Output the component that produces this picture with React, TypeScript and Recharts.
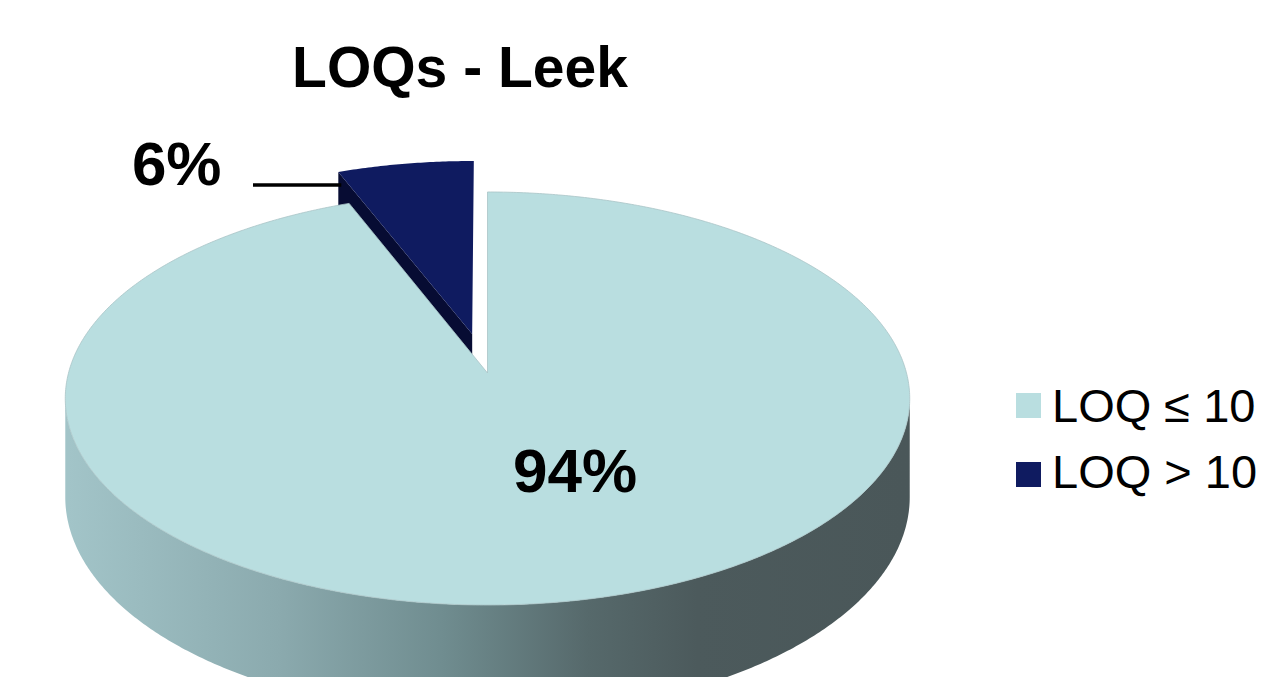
import React from 'react';
import { PieChart, Pie, Legend } from 'recharts';

const categories: string[] = ['LOQ ≤ 10', 'LOQ > 10'];
const values: number[] = [94, 6];
const sliceColors: string[] = ['#B9DEE0', '#0F1B60'];
const cutFaceColors: string[] = ['#8FB1B4', '#070C33'];
const wallStops: number[] = [0, 0.25, 0.45, 0.62, 0.75, 1];
const wallShades: string[] = ['#A2C4C8', '#8BAAAE', '#6F8C8F', '#56696B', '#4C5A5C', '#4A5759'];
const explodeBy: number[] = [0, 0.2];
const chartTitle = 'LOQs - Leek';

const FONT = '"Liberation Sans", Arial, Helvetica, sans-serif';
const RAD = Math.PI / 180;
const TILT = 0.4854;
const PERSP = 0.1235;
const DEPTH = 0.2315;
const SIL = Math.asin(PERSP) / RAD;

// drawing order: the back (exploded) slice first, pie runs counter-clockwise from 12 o'clock
const pieData = [1, 0].map((i) => ({ name: categories[i], value: values[i], idx: i }));

type Pt = [number, number];

function renderSlice(props: any) {
  const { cx, cy, outerRadius, startAngle, endAngle, percent } = props;
  const R = outerRadius;
  const idx: number = props.payload?.idx ?? props.idx;
  const mid = (startAngle + endAngle) / 2;
  const e = explodeBy[idx];
  const ou = e * Math.cos(mid * RAD);
  const ov = -e * Math.sin(mid * RAD);
  const P = (ang: number, r: number, z: number): Pt => {
    const u = ou + r * Math.cos(ang * RAD);
    const v = ov - r * Math.sin(ang * RAD);
    const w = 1 - PERSP * v;
    return [cx + (R * u) / w, cy + (R * TILT * v + R * DEPTH * z) / w];
  };
  const arc = (a: number, b: number, z: number): Pt[] => {
    const n = Math.max(2, Math.ceil(Math.abs(b - a) / 0.5));
    const out: Pt[] = [];
    for (let j = 0; j <= n; j++) out.push(P(a + ((b - a) * j) / n, 1, z));
    return out;
  };
  const toD = (pts: Pt[]) =>
    'M' + pts.map((p) => `${p[0].toFixed(2)},${p[1].toFixed(2)}`).join('L') + 'Z';
  const face = (ang: number) => toD([P(ang, 0, 0), P(ang, 1, 0), P(ang, 1, 1), P(ang, 0, 1)]);

  const faces: string[] = [];
  if (Math.cos(startAngle * RAD) > 1e-6) faces.push(face(startAngle));
  if (Math.cos(endAngle * RAD) < -1e-6) faces.push(face(endAngle));

  const walls: string[] = [];
  for (const s of [-360, 0, 360]) {
    const lo = Math.max(startAngle, 180 + SIL + s);
    const hi = Math.min(endAngle, 360 - SIL + s);
    if (hi > lo) walls.push(toD([...arc(lo, hi, 0), ...arc(hi, lo, 1)]));
  }
  const top = toD([P(0, 0, 0), ...arc(startAngle, endAngle, 0)]);
  const gradId = `wall-grad-${idx}`;
  const pctText = `${Math.round(percent * 100)}%`;

  let label: React.ReactNode = null;
  if (idx === 0) {
    label = (
      <text x={cx + 87.5} y={cy + 119} textAnchor="middle" fontFamily={FONT} fontSize={62} fontWeight="bold" fill="#000">
        {pctText}
      </text>
    );
  } else {
    const corner = P(endAngle, 1, 0);
    const lineY = cy - 188;
    label = (
      <g>
        <line x1={cx - 234.5} y1={lineY} x2={corner[0] + 3} y2={lineY} stroke="#000" strokeWidth={3.5} />
        <text x={cx - 266} y={lineY} textAnchor="end" fontFamily={FONT} fontSize={62} fontWeight="bold" fill="#000">
          {pctText}
        </text>
      </g>
    );
  }

  return (
    <g key={`slice-${idx}`}>
      <defs>
        <linearGradient id={gradId} gradientUnits="userSpaceOnUse" x1={cx - R} y1={0} x2={cx + R} y2={0}>
          {wallStops.map((o, j) => (
            <stop key={j} offset={o} stopColor={wallShades[j]} />
          ))}
        </linearGradient>
      </defs>
      {faces.map((f, j) => (
        <path key={`f${j}`} d={f} fill={cutFaceColors[idx]} stroke="none" />
      ))}
      {walls.map((w, j) => (
        <path key={`w${j}`} d={w} fill={idx === 0 ? `url(#${gradId})` : cutFaceColors[idx]} stroke="none" />
      ))}
      <path d={top} fill={sliceColors[idx]} stroke={idx === 0 ? '#A9C4C6' : 'none'} strokeWidth={0.8} />
      {label}
    </g>
  );
}

const renderLegend = () => (
  <svg width={261} height={130} style={{ display: 'block' }}>
    {categories.map((c, i) => (
      <g key={c}>
        <rect x={16} y={13 + i * 69} width={25} height={25} fill={sliceColors[i]} />
        <text x={52} y={42 + i * 66} fontFamily={FONT} fontSize={47} fill="#000">
          {c}
        </text>
      </g>
    ))}
  </svg>
);

export default function App() {
  return (
    <div style={{ position: 'absolute', left: 0, top: 0, width: 1261, height: 677, background: '#fff', overflow: 'hidden' }}>
      <PieChart width={1261} height={677} margin={{ top: 0, right: 0, bottom: 0, left: 0 }}>
        <Pie
          data={pieData}
          dataKey="value"
          nameKey="name"
          cx={487.5}
          cy={373}
          outerRadius={419}
          startAngle={90}
          endAngle={450}
          fill="none"
          stroke="none"
          label={renderSlice}
          labelLine={false}
          isAnimationActive={false}
        />
        <Legend
          layout="vertical"
          align="right"
          verticalAlign="top"
          content={renderLegend}
          wrapperStyle={{ left: 1000, right: 'auto', top: 380, width: 261, height: 130 }}
        />
      </PieChart>
      <svg width={1261} height={120} style={{ position: 'absolute', left: 0, top: 0, pointerEvents: 'none' }}>
        <text x={460} y={87} textAnchor="middle" fontFamily={FONT} fontSize={57} fontWeight="bold" fill="#000">
          {chartTitle}
        </text>
      </svg>
    </div>
  );
}
